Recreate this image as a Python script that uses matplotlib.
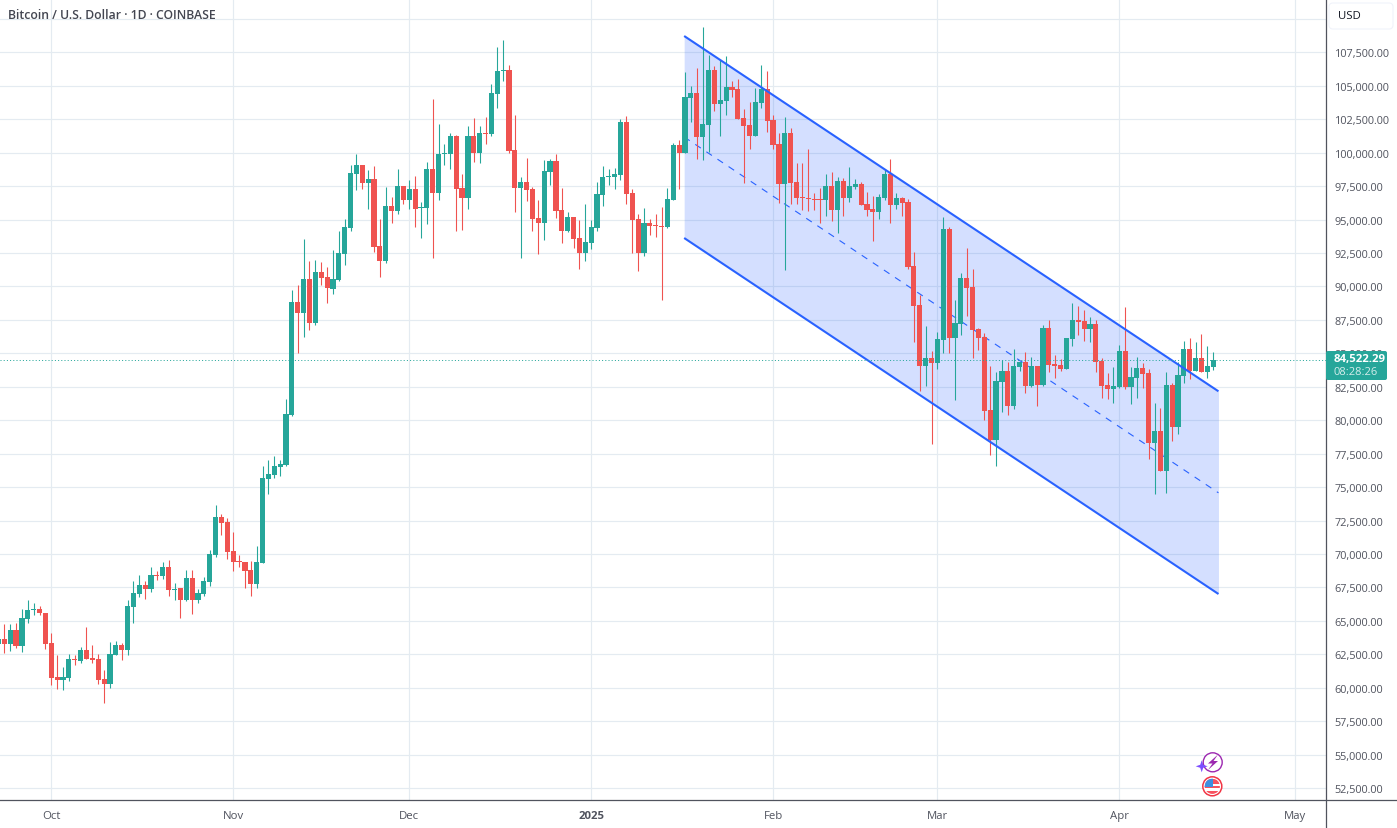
import matplotlib
matplotlib.use("Agg")
import matplotlib.pyplot as plt
import matplotlib.dates as mdates
import numpy as np
import pandas as pd
from matplotlib.lines import Line2D
from matplotlib.patches import Circle, FancyBboxPatch, Polygon, Rectangle
from matplotlib.transforms import Affine2D

START_DATE = "2024-09-22"

opens = [
    63300, 63625, 63250, 64300, 63125, 65125, 65800, 65875, 65625,
    63325, 60775, 60550, 60700, 62125, 61975, 62800, 62200, 62125, 60625,
    60250, 62425, 63175, 62800, 66025, 67000, 67675, 67375, 68425, 68350,
    69025, 67325, 67450, 66550, 68200, 66550, 67000, 67900, 69925, 72775,
    72400, 70225, 69475, 69400, 68800, 67750, 69325, 75600, 75900, 76500,
    76650, 80380, 88825, 88000, 90540, 87255, 91065, 90690, 89795, 90470,
    92410, 94350, 98385, 99060, 97710, 98010, 93000, 91890, 96000, 95620,
    97490, 96445, 97265, 95870, 95845, 98778, 96983, 99900, 99900, 101246,
    97357, 96609, 101246, 99975, 101470, 101396, 104388, 106108, 106183, 100200,
    97357, 97806, 97282, 95105, 94730, 98553, 99376, 95705, 94140, 95180,
    93620, 92520, 93268, 94365, 96833, 98180, 98180, 98329, 102294, 96983,
    95030, 92495, 94730, 94580, 94505, 94430, 96459, 100573, 99975, 104094,
    104468, 101180, 102076, 106187, 103646, 103870, 104917, 104767, 102600, 102076,
    101254, 103720, 104767, 102450, 100656, 97666, 101478, 97816, 96692, 96617,
    96542, 96542, 96467, 97517, 95723, 97891, 96617, 97442, 97666, 96171,
    95798, 95573, 96617, 98412, 96096, 96617, 96321, 91512, 88595, 84033,
    84632, 84257, 85977, 94279, 86127, 87174, 90614, 89941, 86800, 86202,
    80742, 78499, 82837, 83661, 81041, 83958, 84333, 82537, 84033, 82612,
    86875, 84183, 84108, 83805, 86037, 87525, 87450, 86855, 87227, 84400,
    82614, 82317, 82466, 85144, 82466, 83135, 83879, 83507, 78299, 79192,
    76216, 82615, 79490, 83284, 85293, 83656, 84624, 83582, 84003,
]
highs = [
    63675, 64750, 64750, 64825, 65875, 66550, 66325, 66100, 65625,
    64125, 62425, 61525, 62500, 62425, 63025, 64525, 63175, 62500, 61300,
    63400, 63475, 63325, 66550, 67975, 68425, 67975, 69025, 68725, 69400,
    69550, 67825, 67450, 68800, 68800, 67375, 68275, 70300, 73675, 73000,
    72700, 71650, 69925, 69400, 69475, 70600, 76575, 77020, 77320, 77020,
    81575, 89720, 90090, 93530, 91890, 91960, 91810, 91440, 92710, 94130,
    95020, 99060, 99880, 99060, 98685, 98980, 95020, 97415, 96670, 98760,
    97490, 97940, 98235, 96295, 99280, 104014, 102145, 100648, 101470, 101320,
    98404, 101994, 102595, 101994, 102669, 105136, 107904, 108427, 106557, 102800,
    98180, 99580, 97432, 96459, 99451, 99526, 99900, 97357, 95562, 95180,
    94955, 96160, 94955, 97806, 99003, 98778, 98853, 102518, 102743, 97282,
    95405, 95830, 95030, 95405, 95905, 97357, 100723, 100922, 106033, 104993,
    106337, 109402, 107309, 106487, 106935, 107234, 105365, 105515, 103272, 103796,
    104842, 106561, 106113, 102824, 101478, 102675, 101852, 99236, 99236, 100283,
    97008, 97383, 98412, 98563, 98190, 98115, 98937, 98040, 97816, 97068,
    96767, 96917, 98787, 99535, 97008, 96692, 96546, 92559, 89343, 87024,
    85154, 86576, 95177, 94429, 88969, 90989, 92858, 91287, 86875, 86502,
    84033, 83586, 84483, 84333, 85304, 84333, 85080, 84732, 84033, 87099,
    87473, 84856, 84558, 86111, 88790, 88567, 88269, 87748, 87525, 84624,
    83507, 83953, 85590, 88492, 83953, 84698, 84251, 83805, 81275, 80903,
    83582, 82763, 84326, 85889, 86111, 85814, 86483, 85516, 85070,
]
lows = [
    63250, 62575, 62725, 62950, 62650, 64825, 65425, 65425, 62875,
    60200, 59950, 59825, 60475, 61675, 61825, 62125, 61825, 60250, 58900,
    60025, 62425, 62050, 62425, 64825, 66775, 66625, 67150, 68050, 68125,
    66850, 66550, 65200, 66475, 65500, 66325, 66850, 67600, 69775, 71425,
    69625, 68725, 69025, 67450, 66850, 67450, 69325, 74500, 75675, 75830,
    76575, 80310, 85015, 86210, 86730, 87105, 90090, 88750, 89420, 90390,
    91590, 94130, 97190, 97265, 95770, 92560, 90690, 91740, 94725, 95400,
    96145, 95770, 94425, 93600, 94650, 92121, 96459, 99077, 98778, 94165,
    94240, 95795, 99303, 99228, 100648, 101246, 103321, 105350, 99975, 95562,
    92121, 96384, 94165, 92420, 93467, 97581, 95105, 93245, 94065, 92870,
    91298, 91896, 92794, 94165, 96035, 97581, 97282, 97955, 96160, 92495,
    91173, 92270, 93840, 93690, 89004, 94355, 96459, 97282, 99975, 102300,
    99535, 99460, 100058, 103100, 101254, 102824, 104169, 102525, 97741, 100283,
    101254, 103347, 101553, 100283, 96246, 91238, 96171, 96171, 95723, 95648,
    95723, 94751, 95272, 94900, 94028, 95272, 96321, 97292, 96096, 95272,
    93405, 95050, 96467, 94751, 95797, 95272, 91312, 85828, 82163, 82537,
    78200, 83809, 85005, 85005, 81490, 86352, 87772, 84632, 85230, 79994,
    77376, 76553, 80593, 80419, 80817, 83661, 82014, 82462, 81075, 82537,
    83586, 83127, 83661, 83805, 85516, 86335, 85889, 85814, 83582, 81648,
    81573, 81275, 82391, 82317, 81201, 81648, 82391, 77109, 74505, 76216,
    74580, 78449, 78969, 82763, 83061, 83656, 83582, 83135, 83730,
]
closes = [
    63625, 63250, 64300, 63125, 65200, 65800, 65850, 65575, 63275,
    60700, 60550, 60775, 62125, 62050, 62800, 62125, 62050, 60550, 60250,
    62500, 63175, 62800, 66100, 67075, 67675, 67375, 68425, 68375, 69025,
    67300, 67375, 66550, 68200, 66550, 67075, 67975, 70000, 72775, 72325,
    70150, 69400, 69375, 68725, 67750, 69400, 75650, 75975, 76575, 76720,
    80460, 88825, 88000, 90540, 87255, 91065, 90620, 89870, 90540, 92480,
    94430, 98460, 99060, 97710, 98010, 92930, 91890, 96000, 95620, 97490,
    96445, 97265, 95770, 95920, 98760, 96983, 99900, 99975, 101246, 97282,
    96609, 101246, 99975, 101470, 101396, 104463, 106108, 106183, 100124, 97357,
    97806, 97207, 95030, 94730, 98628, 99376, 95630, 94140, 95180, 93540,
    92520, 93343, 94440, 96908, 98180, 98255, 98404, 102294, 96908, 94955,
    92495, 94730, 94505, 94505, 94430, 96534, 100573, 99975, 104164, 104468,
    101180, 102151, 106187, 103646, 103945, 104917, 104692, 102525, 102000, 101254,
    103796, 104767, 102375, 100581, 97666, 101478, 97741, 96617, 96617, 96542,
    96467, 96467, 97517, 95723, 97891, 96617, 97517, 97666, 96096, 95723,
    95573, 96692, 98412, 96096, 96617, 96246, 91462, 88520, 84033, 84632,
    84257, 86052, 94279, 86127, 87249, 90614, 89867, 86725, 86127, 80667,
    78499, 82912, 83661, 81041, 84033, 84333, 82537, 84033, 82612, 86875,
    84108, 84033, 83809, 86111, 87525, 87376, 86855, 87227, 84326, 82540,
    82317, 82540, 85144, 82466, 83210, 83879, 83433, 78299, 79192, 76216,
    82615, 79490, 83359, 85293, 83656, 84624, 83582, 84029, 84522.29,
]

# Descending channel drawn over the 2025 decline
channel_ends = ["2025-01-16 20:24", "2025-04-17 21:36"]
channel_upper = [108718, 82163]
channel_middle = [101170, 74575]
channel_lower = [93621, 67014]

last_price = 84522.29
countdown = "08:28:26"

month_ticks = ["2024-10-01", "2024-11-01", "2024-12-01", "2025-01-01",
               "2025-02-01", "2025-03-01", "2025-04-01", "2025-05-01"]
month_labels = ["Oct", "Nov", "Dec", "2025", "Feb", "Mar", "Apr", "May"]
price_ticks = list(range(52500, 110001, 2500))

UP = "#26a69a"
DOWN = "#ef5350"
BLUE = "#2962ff"
GRID = "#e4ebf1"
AXIS = "#50535e"
TEXT = "#434651"

plt.rcParams["font.family"] = ["Open Sans", "DejaVu Sans"]

W, H = 1397, 829
fig = plt.figure(figsize=(W / 100, H / 100), dpi=100, facecolor="white")
ax = fig.add_axes([0, (H - 801) / H, 1325.5 / W, 801 / H])

dates = pd.date_range(START_DATE, periods=len(opens), freq="D")
x = mdates.date2num(dates)
o, h, l, c = map(np.array, (opens, highs, lows, closes))
colors = np.where(c >= o, UP, DOWN)

# Channel band and its centre line sit beneath the candles
cx = mdates.date2num(pd.to_datetime(channel_ends))
ax.fill_between(cx, channel_lower, channel_upper, color=BLUE, alpha=0.2, lw=0, zorder=1)
ax.plot(cx, channel_middle, color=BLUE, lw=0.8, ls=(0, (6, 6)), zorder=1.5)

# Candles
ax.vlines(x, l, h, colors=colors, lw=0.78, zorder=2)
bottoms = np.minimum(o, c)
heights = np.maximum(np.abs(c - o), 75)
ax.bar(x, heights, bottom=bottoms, width=0.88, color=colors, lw=0, zorder=2.5)

# Channel borders
ax.plot(cx, channel_upper, color=BLUE, lw=1.5, zorder=3, solid_capstyle="butt")
ax.plot(cx, channel_lower, color=BLUE, lw=1.5, zorder=3, solid_capstyle="butt")

# Last price marker
ax.axhline(last_price, color=UP, lw=0.72, ls=(0, (1, 2.2)), zorder=3)

oct1 = mdates.date2num(pd.Timestamp("2024-10-01"))
ax.set_xlim(oct1 - 8.74, oct1 + 217.14)
ax.set_ylim(51617, 111484)

ax.set_xticks(mdates.date2num(pd.to_datetime(month_ticks)))
ax.set_xticklabels(month_labels, fontsize=8.2, color=AXIS)
for lab in ax.get_xticklabels():
    if lab.get_text() == "2025":
        lab.set_fontweight("bold")
ax.yaxis.tick_right()
ax.set_yticks(price_ticks)
# The topmost gridline carries no label: the currency button occupies that spot
ax.set_yticklabels([f"{v:,.2f}" if v < 110000 else "" for v in price_ticks],
                   fontsize=7.85, color=AXIS)
ax.tick_params(axis="both", length=0)
ax.tick_params(axis="x", pad=7)
ax.tick_params(axis="y", pad=6.5)
ax.grid(True, color=GRID, lw=0.85)
ax.set_axisbelow(True)
for s in ax.spines.values():
    s.set_visible(False)

# Everything below is placed in pixels measured from the top-left corner
px = Affine2D().scale(1, -1).translate(0, H)

fig.add_artist(Line2D([1325.5, 1325.5], [0, H], color=AXIS, lw=0.9, transform=px))
fig.add_artist(Line2D([0, W], [801, 801], color=AXIS, lw=0.9, transform=px))

fig.text(8, 16, "Bitcoin / U.S. Dollar · 1D · COINBASE", fontsize=8.85, fontweight="semibold",
         color=TEXT, va="center", ha="left", transform=px)

# Currency button
fig.add_artist(FancyBboxPatch((1329, 4), 64, 26, boxstyle="round,pad=0,rounding_size=4",
                              fc="white", ec="#f0f3fa", lw=0.8, transform=px, zorder=5))
fig.text(1338, 17, "USD", fontsize=8.2, color="#131722", va="center", ha="left",
         transform=px, zorder=6)

# Last price tag
fig.add_artist(FancyBboxPatch((1326, 352), 61, 29, boxstyle="round,pad=0,rounding_size=2",
                              fc=UP, ec="none", transform=px, zorder=5))
fig.text(1334, 360, f"{last_price:,.2f}", fontsize=8.2, fontweight="bold", color="white",
         va="center", ha="left", transform=px, zorder=6)
fig.text(1334, 373, countdown, fontsize=8.0, color="#d4edeb", va="center", ha="left",
         transform=px, zorder=6)

# Lightning badge
fig.add_artist(Circle((1212.7, 763.3), 9.5, fc="white", ec="#9c27b0", lw=1.0, transform=px, zorder=5))
fig.add_artist(Polygon([(1218, 755.5), (1208, 764.5), (1212.5, 764.5), (1208, 771),
                        (1218, 762), (1213.5, 762)], closed=True, fc="#9c27b0", ec="none",
                       transform=px, zorder=6))
fig.add_artist(Polygon([(1201.7, 761.3), (1203.2, 765.8), (1207.7, 767.3), (1203.2, 768.8),
                        (1201.7, 773.3), (1200.2, 768.8), (1195.7, 767.3), (1200.2, 765.8)],
                       closed=True, fc="#7c4dff", ec="none", transform=px, zorder=7))

# Flag badge
fig.add_artist(Circle((1212.3, 787.3), 9.5, fc="white", ec="#f23645", lw=1.1, transform=px, zorder=5))
clip = Circle((1212.3, 787.3), 7.6, transform=px)
for top, height, col in [(780, 4.6, "#f7525f"), (786.5, 2.6, "#f7525f"), (791.5, 4, "#f7525f")]:
    r = Rectangle((1204, top), 17, height, fc=col, ec="none", transform=px, zorder=6)
    fig.add_artist(r)
    r.set_clip_path(clip)
canton = Rectangle((1204, 779), 8.5, 8.5, fc="#3d8fe0", ec="none", transform=px, zorder=6.5)
fig.add_artist(canton)
canton.set_clip_path(clip)

fig.savefig("out.png", dpi=100, facecolor="white")
